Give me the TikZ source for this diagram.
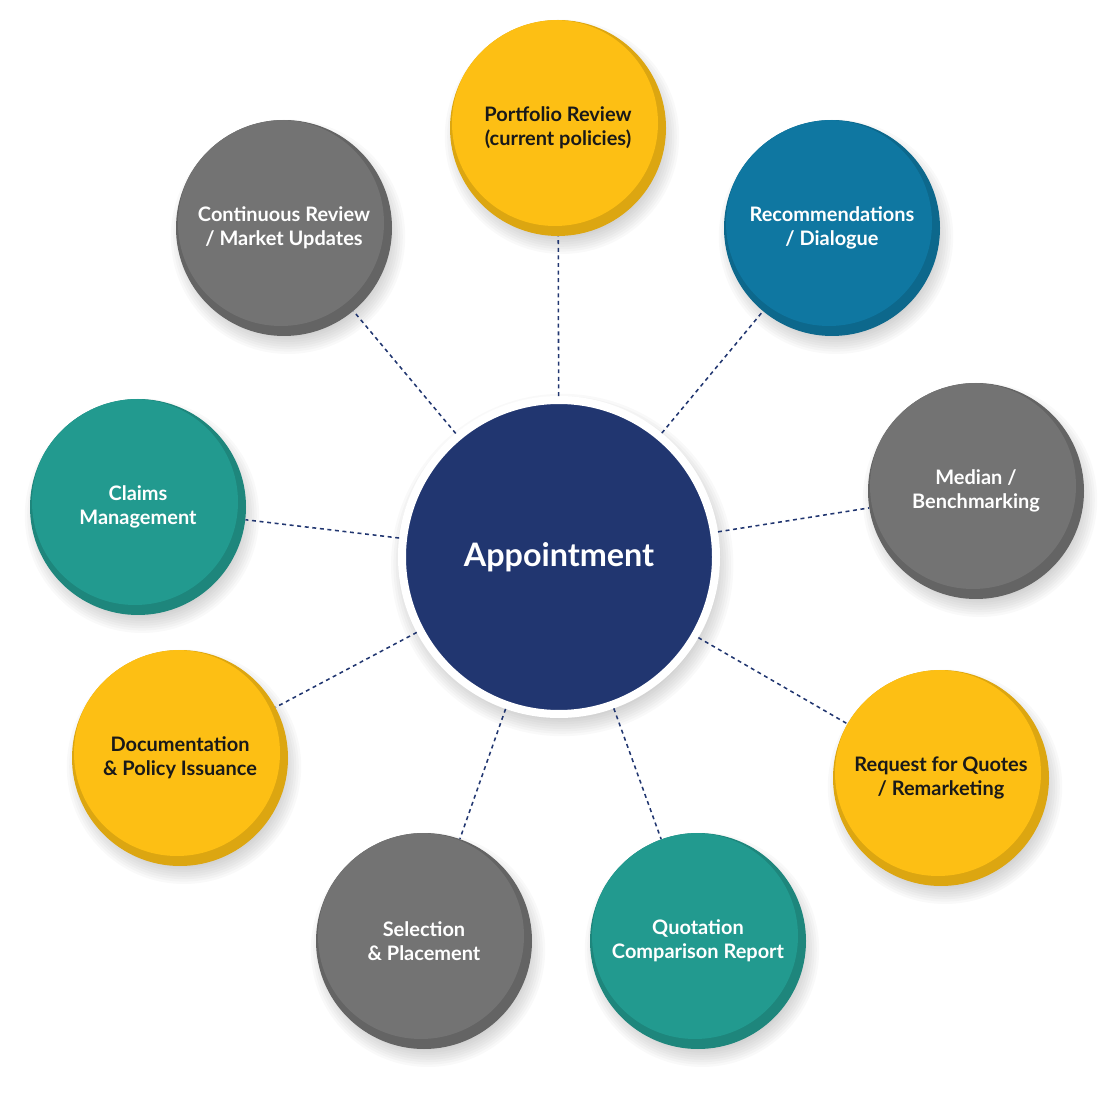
\documentclass[tikz,border=0pt]{standalone}
\usepackage{fontspec}
\setmainfont{Lato}
\usetikzlibrary{calc}
\pgfdeclarelayer{fondo}
\pgfsetlayers{fondo,main}
\definecolor{azulnoche}{HTML}{213670}
\definecolor{amarillo}{HTML}{FDBF14}
\definecolor{gris}{HTML}{737373}
\definecolor{verdeazul}{HTML}{229A8F}
\definecolor{azul}{HTML}{0F77A1}

\begin{document}
\begin{tikzpicture}[
  burbuja/.style={circle,minimum size=5.4cm,inner sep=0pt,fill=#1!87!black,
    align=center,text=white,font=\bfseries\fontsize{14.2}{17}\selectfont,
    path picture={\fill[#1] ($(path picture bounding box.center)+(-0.075,0.125)$) circle (2.575);}},
  negro/.style={text=black!90},
  centro/.style={circle,minimum size=7.85cm,inner sep=0pt,fill=azulnoche,
    draw=white,line width=0.2cm,text=white,font=\bfseries\fontsize{23}{27}\selectfont},
  conector/.style={azulnoche,line width=1.1pt,dash pattern=on 2.8pt off 2.6pt}]
  \useasboundingbox (0,0) rectangle (27.85,27.35);
  % nodo central
  \node[centro] (cita) at (13.975,13.425) {Appointment};
  % burbujas exteriores
  \node[burbuja=amarillo,negro] (cartera) at (13.95,24.15) {Portfolio Review\\(current policies)};
  \node[burbuja=azul] (recom) at (20.8,21.65) {Recommendations\\/ Dialogue};
  \node[burbuja=gris] (mediana) at (24.4,15.075) {Median /\\Benchmarking};
  \node[burbuja=amarillo,negro] (cotiz) at (23.525,7.9) {Request for Quotes\\/ Remarketing};
  \node[burbuja=verdeazul] (informe) at (17.45,3.825) {Quotation\\Comparison Report};
  \node[burbuja=gris] (seleccion) at (10.6,3.825) {Selection\\\& Placement};
  \node[burbuja=amarillo,negro] (docum) at (4.5,8.4) {Documentation\\\& Policy Issuance};
  \node[burbuja=verdeazul] (siniestros) at (3.45,14.675) {Claims\\Management};
  \node[burbuja=gris] (revision) at (7.1,21.65) {Continuous Review\\/ Market Updates};
  % lineas punteadas
  \foreach \n in {cartera,recom,mediana,cotiz,informe,seleccion,docum,siniestros,revision}
    \draw[conector] (cita) -- (\n);
  % sombras suaves
  \begin{pgfonlayer}{fondo}
    \foreach \n in {cartera,recom,mediana,cotiz,informe,seleccion,docum,siniestros,revision}
      \foreach \k in {1,...,8}
        \fill[black,opacity=0.022] ([shift={(0.1,-0.22)}]\n.center) circle[radius=2.45+0.06*\k];
    \foreach \k in {1,...,8}
      \fill[black,opacity=0.022] ([shift={(0.08,-0.2)}]cita.center) circle[radius=3.8+0.06*\k];
  \end{pgfonlayer}
\end{tikzpicture}
\end{document}
